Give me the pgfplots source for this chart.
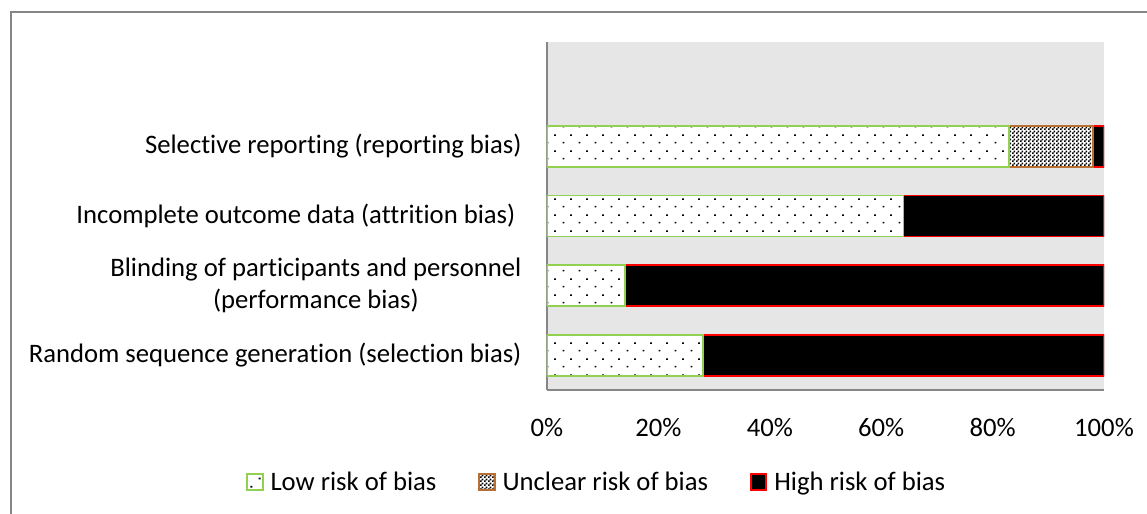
\documentclass[border=0pt]{standalone}
\usepackage{pgfplots}
\pgfplotsset{compat=1.18}
\usetikzlibrary{patterns}
\usepackage{fontspec}
\setmainfont{Carlito}[Ligatures=NoCommon]
\definecolor{axgray}{RGB}{134,134,134}
\definecolor{plotbg}{RGB}{230,230,230}
\definecolor{lowgreen}{RGB}{146,208,80}
\definecolor{unclbrown}{RGB}{185,110,50}
\definecolor{highred}{RGB}{255,0,0}

\pgfdeclarepatternformonly{sparsedots}{\pgfpointorigin}{\pgfqpoint{12pt}{12pt}}{\pgfqpoint{12pt}{12pt}}{%
  \pgfpathrectangle{\pgfqpoint{2pt}{2pt}}{\pgfqpoint{1.5pt}{1.3pt}}%
  \pgfpathrectangle{\pgfqpoint{8pt}{8pt}}{\pgfqpoint{1.5pt}{1.3pt}}%
  \pgfusepath{fill}}
\pgfdeclarepatternformonly{finechecker}{\pgfpointorigin}{\pgfqpoint{3pt}{3pt}}{\pgfqpoint{3pt}{3pt}}{%
  \pgfpathrectangle{\pgfpointorigin}{\pgfqpoint{1.5pt}{1.5pt}}%
  \pgfpathrectangle{\pgfqpoint{1.5pt}{1.5pt}}{\pgfqpoint{1.5pt}{1.5pt}}%
  \pgfusepath{fill}}

\begin{document}
\begin{tikzpicture}[font=\fontsize{20}{24}\selectfont]
\useasboundingbox (0,0) rectangle (860.25pt,385.5pt);
\draw[axgray, line width=0.9pt] (8.25pt,0pt) -- (8.25pt,376.5pt) -- (860.25pt,376.5pt);
\begin{axis}[
  at={(410.25pt,93pt)}, anchor=south west,
  scale only axis, width=417.75pt, height=261pt,
  xbar stacked, bar width=30.75pt,
  xmin=0, xmax=100, ymin=-0.5, ymax=4.5,
  enlargelimits=false,
  axis background/.style={fill=plotbg},
  axis lines*=left,
  axis line style={-, axgray, line width=1.3pt},
  xtick={0,20,40,60,80,100},
  xticklabels={0\%,20\%,40\%,60\%,80\%,100\%},
  ytick={0,1,2,3},
  yticklabels={Random sequence generation (selection bias),
    {Blinding of participants and personnel\\(performance bias)},
    {Incomplete outcome data (attrition bias)\hspace*{0.23em}},
    Selective reporting (reporting bias)},
  major tick length=0pt,
  tick label style={font=\fontsize{20}{24}\selectfont},
  xticklabel style={anchor=center, yshift=-28.5pt, inner sep=0pt},
  yticklabel style={anchor=east, align=center, inner sep=0pt, xshift=-19pt},
  legend columns=3,
  legend cell align=left,
  legend style={at={(0.0876,-0.2644)}, anchor=center, draw=none, fill=none,
    font=\fontsize{20}{24}\selectfont,
    nodes={inner sep=0pt}, column sep=0pt,
    /tikz/every odd column/.append style={column sep=5.25pt},
    /tikz/every even column/.append style={column sep=31.5pt}},
  legend image code/.code={\draw[#1] (0pt,-5.8pt) rectangle (11.6pt,5.8pt);},
]
\addplot[draw=lowgreen, line width=1.3pt, preaction={fill=white}, pattern=sparsedots, pattern color=black]
  coordinates {(28,0) (14,1) (64,2) (83,3)};
\addplot[draw=unclbrown, line width=1.3pt, preaction={fill=white}, pattern=finechecker, pattern color=black]
  coordinates {(0,0) (0,1) (0,2) (15,3)};
\addplot[draw=highred, line width=1.4pt, fill=black]
  coordinates {(72,0) (86,1) (36,2) (2,3)};
\legend{Low risk of bias, Unclear risk of bias, High risk of bias}
\end{axis}
\end{tikzpicture}
\end{document}
